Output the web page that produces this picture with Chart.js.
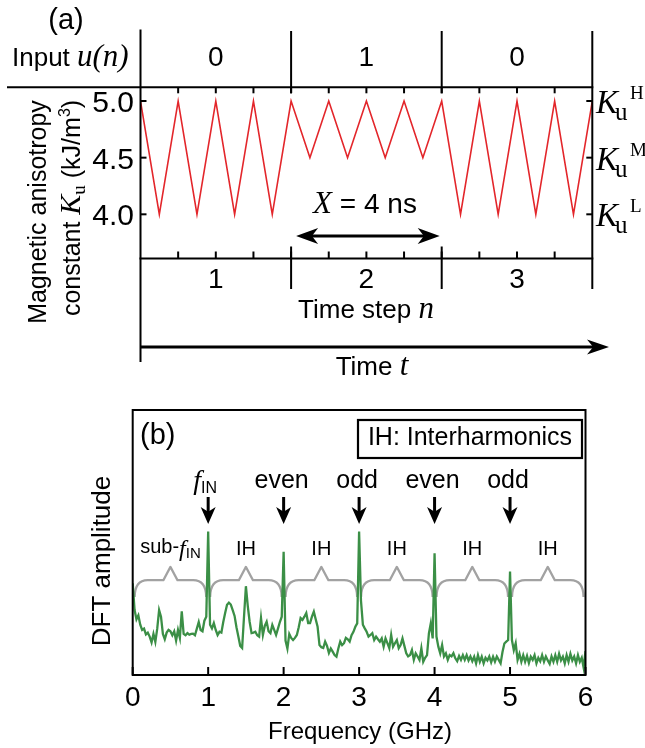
<!DOCTYPE html>
<html><head><meta charset="utf-8">
<script src="https://cdn.jsdelivr.net/npm/chart.js"></script>
<style>
html,body{margin:0;padding:0;background:#fff;}
#wrap{position:relative;width:645px;height:748px;overflow:hidden;background:#fff;}
canvas{position:absolute;left:0;}
#ca{top:0;} #cb{top:380px;}
</style></head><body>
<div id="wrap"><canvas id="ca" width="645" height="380"></canvas><canvas id="cb" width="645" height="368"></canvas></div>
<script>
// ---------- Panel (a) data ----------
const timeNs   = [0,0.5,1,1.5,2,2.5,3,3.5,4,4.5,5,5.5,6,6.5,7,7.5,8,8.5,9,9.5,10,10.5,11,11.5,12];
const kuValues = [5,4,5,4,5,4,5,4,5,4.5,5,4.5,5,4.5,5,4.5,5,4,5,4,5,4,5,4,5];
const kuTicks = [5.0,4.5,4.0];
const kuTickLabels = ['5.0','4.5','4.0'];
const kuLevelNames = ['H','M','L'];
const inputBits = ['0','1','0'];
const stepLabels = ['1','2','3'];
const stepBoundsNs = [0,4,8,12];
const nsTicks = [1,2,3,4,5,6,7,8,9,10,11];

// ---------- Panel (b) data ----------
const freqStepGHz = 0.025;
const dftAmp = [
 34.6,24.5,21.0,22.5,19.0,17.0,17.5,15.3,16.0,14.5,
 12.3,15.5,12.5,17.5,24.5,22.0,15.5,13.5,16.0,17.0,
 16.5,15.0,16.5,13.0,17.0,14.0,24.0,15.5,15.0,15.8,
 15.2,15.5,15.6,15.0,17.5,20.0,17.0,16.5,20.5,22.0,
 54.1,19.0,17.6,19.6,17.0,15.1,16.3,16.0,20.0,23.4,
 26.5,27.3,26.6,24.5,22.3,18.0,14.5,11.0,10.2,22.0,
 33.5,26.0,20.0,15.8,16.0,16.3,15.0,14.5,21.5,15.1,
 18.5,20.1,16.5,15.8,18.9,17.0,15.1,17.5,20.0,22.0,
 46.5,13.0,10.0,15.5,14.0,13.2,14.0,15.1,18.0,21.5,
 20.8,22.0,23.4,19.6,19.6,22.0,23.9,21.0,18.2,11.3,
 10.5,10.2,12.6,11.0,8.3,10.0,8.8,7.5,6.9,10.0,
 12.6,11.3,12.0,14.0,13.5,12.6,15.0,16.3,18.2,19.5,
 54.1,28.0,19.0,17.6,16.3,14.5,15.1,15.8,13.2,14.5,
 13.5,12.6,13.8,10.7,13.8,12.0,10.1,15.1,10.7,12.0,
 13.2,10.1,11.3,13.8,11.0,8.2,7.0,7.5,9.4,5.7,
 8.2,7.0,5.7,10.1,5.0,6.5,7.5,15.7,19.5,13.8,
 45.9,14.5,10.7,8.2,11.3,7.0,8.2,5.7,7.5,7.0,
 8.2,6.3,5.2,7.2,5.7,7.5,5.7,7.5,5.5,7.0,
 5.2,6.9,4.4,7.5,5.0,6.9,4.4,6.5,5.5,7.0,
 4.8,6.9,5.0,7.0,5.7,4.4,8.7,11.9,12.6,13.2,
 39.0,13.2,9.4,12.0,5.7,8.0,5.0,7.5,5.0,7.2,
 4.5,6.9,5.7,7.5,4.4,6.5,5.2,7.5,5.0,7.0,
 5.5,4.2,7.0,5.0,7.5,5.0,8.0,5.5,6.9,4.4,
 7.5,5.0,8.0,5.5,7.0,4.4,7.5,5.0,6.5,2.8,
 9.0];
const freqTicks = [0,1,2,3,4,5,6];
const freqTickLabels = ['0','1','2','3','4','5','6'];
const harmonicFreqs = [1,2,3,4,5];
const harmonicLabels = ['fIN','even','odd','even','odd'];
const ihCenters = [1.5,2.5,3.5,4.5,5.5];
const braceBounds = [0,1,2,3,4,5,6];
const braceLevels = {flat:35.8, ends:29.4, peak:40.8};

// ---------- helpers ----------
const SANS = '"Liberation Sans", Arial, Helvetica, sans-serif';
const SERIF = '"Liberation Serif", "Times New Roman", Times, serif';
const fs = (sz, fam, st) => (st ? st + ' ' : '') + sz + 'px ' + fam;
function rich(ctx, parts, x, y, align) {
  let w = 0;
  parts.forEach(p => { ctx.font = p[1]; p.w = ctx.measureText(p[0]).width; w += p.w; });
  let cx = align === 'center' ? x - w / 2 : align === 'right' ? x - w : x;
  ctx.textAlign = 'left'; ctx.textBaseline = 'alphabetic';
  parts.forEach(p => { ctx.font = p[1]; ctx.fillText(p[0], cx + (p[3] || 0), y + (p[2] || 0)); cx += p.w; });
}
function seg(ctx, x1, y1, x2, y2) { ctx.beginPath(); ctx.moveTo(x1, y1); ctx.lineTo(x2, y2); ctx.stroke(); }
function head(ctx, tx, ty, dx, dy, len, half) {
  const bx = tx - dx * len, by = ty - dy * len, nx = -dy, ny = dx;
  const mx = tx - dx * len * 0.72, my = ty - dy * len * 0.72;
  ctx.beginPath(); ctx.moveTo(tx, ty);
  ctx.lineTo(bx + nx * half, by + ny * half); ctx.lineTo(mx, my);
  ctx.lineTo(bx - nx * half, by - ny * half); ctx.closePath(); ctx.fill();
}

// ---------- Panel (a) ----------
const panelA = {
  id: 'panelA',
  afterDraw(chart) {
    const { ctx, chartArea: ca, scales: { x, y } } = chart;
    ctx.save();
    ctx.strokeStyle = '#000'; ctx.fillStyle = '#000'; ctx.lineWidth = 2;
    const xs = stepBoundsNs.map(v => x.getPixelForValue(v));
    seg(ctx, 7, ca.top, ca.right + 1, ca.top);
    seg(ctx, ca.left - 1, ca.bottom, ca.right + 1, ca.bottom);
    seg(ctx, ca.left, 29.6, ca.left, 362);
    seg(ctx, ca.right, 31, ca.right, 289);
    for (let i = 1; i < 3; i++) {
      seg(ctx, xs[i], 31, xs[i], ca.top + 6);
      seg(ctx, xs[i], ca.bottom - 12, xs[i], 289);
    }
    nsTicks.forEach(t => {
      const px = x.getPixelForValue(t);
      seg(ctx, px, ca.top, px, ca.top + 6);
      seg(ctx, px, ca.bottom, px, ca.bottom - 7);
    });
    kuTicks.forEach(v => {
      const py = y.getPixelForValue(v);
      seg(ctx, ca.left, py, ca.left + 6, py);
      seg(ctx, ca.right, py, ca.right - 6, py);
    });
    // tick labels
    ctx.font = fs(30, SANS); ctx.textAlign = 'right'; ctx.textBaseline = 'alphabetic';
    kuTicks.forEach((v, i) => ctx.fillText(kuTickLabels[i], 134, y.getPixelForValue(v) + 11));
    // right labels
    kuTicks.forEach((v, i) => {
      const py = y.getPixelForValue(v);
      ctx.textAlign = 'left';
      ctx.font = fs(33, SERIF, 'italic'); ctx.fillText('K', 596, py + 12);
      ctx.font = fs(25, SERIF); ctx.fillText('u', 615, py + 19);
      ctx.font = fs(19, SERIF); ctx.fillText(kuLevelNames[i], 630, py - 2);
    });
    // (a)
    ctx.font = fs(29, SANS); ctx.textAlign = 'center'; ctx.fillText('(a)', 66, 29);
    // input row
    rich(ctx, [['Input ', fs(26, SANS)], ['u(n)', fs(31, SERIF, 'italic')]], 12, 65.6, 'left');
    ctx.font = fs(28, SANS); ctx.textAlign = 'center';
    inputBits.forEach((b, i) => ctx.fillText(b, (xs[i] + xs[i + 1]) / 2, 65.6));
    stepLabels.forEach((b, i) => ctx.fillText(b, (xs[i] + xs[i + 1]) / 2, 288));
    rich(ctx, [['Time step ', fs(26, SANS)], ['n', fs(31, SERIF, 'italic')]], 366, 318, 'center');
    // X = 4 ns
    rich(ctx, [['X', fs(31, SERIF, 'italic')], [' = 4 ns', fs(28, SANS)]], 365, 212.5, 'center');
    ctx.lineWidth = 3;
    const ax1 = x.getPixelForValue(4) + 5, ax2 = x.getPixelForValue(8) - 2, ay = 236;
    seg(ctx, ax1 + 10, ay, ax2 - 10, ay);
    head(ctx, ax1, ay, -1, 0, 22, 8);
    head(ctx, ax2, ay, 1, 0, 22, 8);
    // time arrow
    seg(ctx, ca.left, 347, 596, 347);
    head(ctx, 609, 347, 1, 0, 22, 7.5);
    rich(ctx, [['Time ', fs(26, SANS)], ['t', fs(31, SERIF, 'italic')]], 372, 375, 'center');
    // y title
    ctx.save(); ctx.translate(46, 212); ctx.rotate(-Math.PI / 2);
    rich(ctx, [['Magnetic anisotropy', fs(25, SANS)]], 0, 0, 'center');
    ctx.restore();
    ctx.save(); ctx.translate(80, 208); ctx.rotate(-Math.PI / 2);
    rich(ctx, [['constant ', fs(25, SANS)], ['K', fs(30, SERIF, 'italic')], ['u', fs(19, SERIF), 5],
               [' (kJ/m', fs(25, SANS)], ['3', fs(16, SANS), -10], [')', fs(25, SANS)]], 0, 0, 'center');
    ctx.restore();
    ctx.restore();
  }
};

new Chart(document.getElementById('ca'), {
  type: 'line',
  data: { datasets: [{ data: timeNs.map((t, i) => ({ x: t, y: kuValues[i] })),
    borderColor: '#e3262b', borderWidth: 1.6, pointRadius: 0, tension: 0, fill: false }] },
  options: {
    responsive: false, animation: false, devicePixelRatio: 1,
    layout: { padding: { left: 140.5, right: 52.7, top: 87.3, bottom: 121.5 } },
    plugins: { legend: { display: false }, tooltip: { enabled: false } },
    scales: { x: { type: 'linear', min: 0, max: 12, display: false },
              y: { type: 'linear', min: 3.61, max: 5.121, display: false } }
  },
  plugins: [panelA]
});

// ---------- Panel (b) ----------
const panelB = {
  id: 'panelB',
  beforeDatasetsDraw(chart) {
    const { ctx, scales: { x, y } } = chart;
    ctx.save();
    ctx.strokeStyle = '#a2a2a2'; ctx.lineWidth = 2.2; ctx.lineJoin = 'round';
    const yf = y.getPixelForValue(braceLevels.flat), ye = y.getPixelForValue(braceLevels.ends), yp = y.getPixelForValue(braceLevels.peak);
    for (let i = 0; i < braceBounds.length - 1; i++) {
      const x0 = x.getPixelForValue(braceBounds[i]) + 2, x1 = x.getPixelForValue(braceBounds[i + 1]) - 2;
      const xc = (x0 + x1) / 2, r = 13;
      ctx.beginPath();
      ctx.moveTo(x0, ye);
      ctx.quadraticCurveTo(x0, yf, x0 + r, yf);
      ctx.lineTo(xc - 7, yf); ctx.lineTo(xc, yp); ctx.lineTo(xc + 7, yf);
      ctx.lineTo(x1 - r, yf);
      ctx.quadraticCurveTo(x1, yf, x1, ye);
      ctx.stroke();
    }
    ctx.restore();
  },
  afterDraw(chart) {
    const { ctx, chartArea: ca, scales: { x, y } } = chart;
    ctx.save();
    ctx.strokeStyle = '#000'; ctx.fillStyle = '#000'; ctx.lineWidth = 2;
    ctx.strokeRect(ca.left, ca.top, ca.right - ca.left, ca.bottom - ca.top);
    freqTicks.forEach(f => { const px = x.getPixelForValue(f); seg(ctx, px, ca.bottom, px, ca.bottom - 8); });
    ctx.font = fs(28, SANS); ctx.textAlign = 'center'; ctx.textBaseline = 'alphabetic';
    freqTicks.forEach((f, i) => ctx.fillText(freqTickLabels[i], x.getPixelForValue(f), 326));
    ctx.font = fs(24, SANS); ctx.fillText('Frequency (GHz)', 360, 359);
    ctx.save(); ctx.translate(110, 181); ctx.rotate(-Math.PI / 2);
    ctx.font = fs(26, SANS); ctx.fillText('DFT amplitude', 0, 0); ctx.restore();
    ctx.textAlign = 'left'; ctx.font = fs(29, SANS); ctx.fillText('(b)', 140, 64);
    // legend box
    ctx.lineWidth = 2.2; ctx.strokeRect(358, 40, 224, 38);
    ctx.textAlign = 'center'; ctx.font = fs(25, SANS); ctx.fillText('IH: Interharmonics', 470, 65);
    // harmonic labels + arrows
    harmonicFreqs.forEach((f, i) => {
      const px = x.getPixelForValue(f);
      if (harmonicLabels[i] === 'fIN') {
        rich(ctx, [['f', fs(28, SERIF, 'italic')], ['IN', fs(16, SANS), 4]], px - 3, 109, 'center');
      } else {
        ctx.font = fs(25, SANS); ctx.textAlign = 'center'; ctx.fillText(harmonicLabels[i], px - 2, 108);
      }
      ctx.lineWidth = 3; seg(ctx, px, 117, px, 134);
      head(ctx, px, 144, 0, 1, 17, 7.5);
    });
    // sub-fIN and IH labels
    rich(ctx, [['sub-', fs(20, SANS)], ['f', fs(24, SERIF, 'italic'), 3], ['IN', fs(15, SANS), 5]], x.getPixelForValue(0.5), 173, 'center');
    ctx.font = fs(20, SANS); ctx.textAlign = 'center';
    ihCenters.forEach(f => ctx.fillText('IH', x.getPixelForValue(f), 175));
    ctx.restore();
  }
};

new Chart(document.getElementById('cb'), {
  type: 'line',
  data: { datasets: [{ data: dftAmp.map((v, i) => ({ x: i * freqStepGHz, y: v })),
    borderColor: '#3b8f46', borderWidth: 2.3, pointRadius: 0, tension: 0, fill: false }] },
  options: {
    responsive: false, animation: false, devicePixelRatio: 1,
    layout: { padding: { left: 132.7, right: 59.5, top: 30, bottom: 73 } },
    plugins: { legend: { display: false }, tooltip: { enabled: false } },
    scales: { x: { type: 'linear', min: 0, max: 6, display: false },
              y: { type: 'linear', min: 0, max: 100, display: false } }
  },
  plugins: [panelB]
});
</script>
</body></html>
